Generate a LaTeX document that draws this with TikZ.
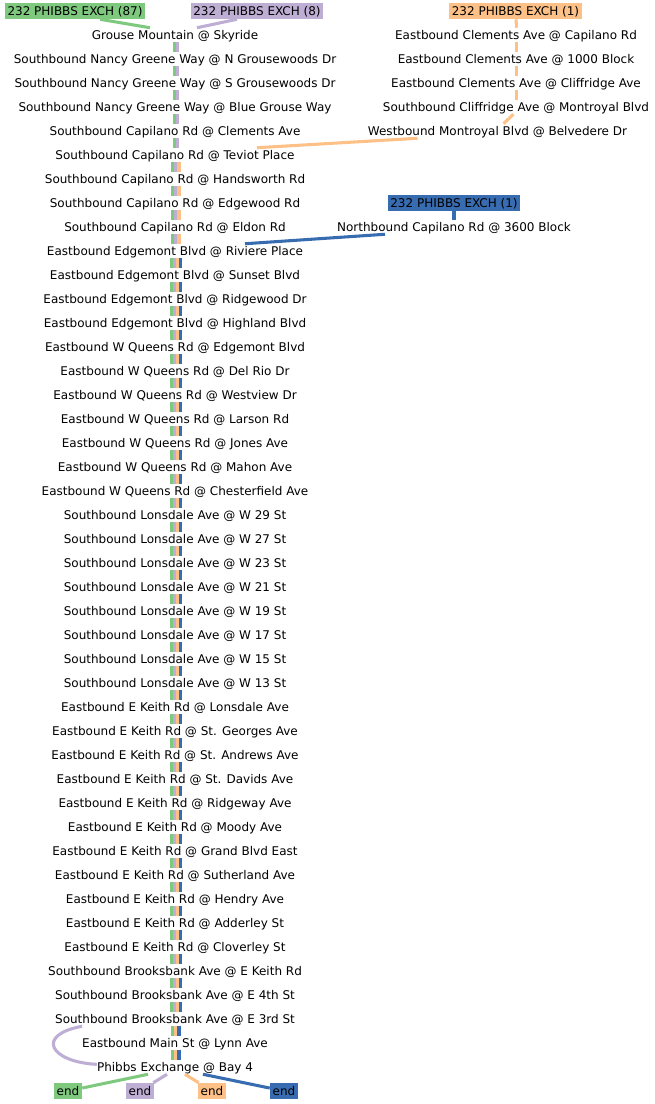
\documentclass[tikz,border=0pt]{standalone}
\usepackage{fontspec}
\setmainfont{DejaVu Sans}
\definecolor{routeg}{HTML}{7FC97F}
\definecolor{routep}{HTML}{BEAED4}
\definecolor{routeo}{HTML}{FDC086}
\definecolor{routeb}{HTML}{386CB0}
\begin{document}
\begin{tikzpicture}[
    x=0.75pt, y=-0.75pt,
    font=\fontsize{9}{10}\selectfont,
    stop/.style={inner sep=0pt, minimum height=10.5pt, text height=7.3pt, text depth=1.2pt},
    hdr/.style={fill=#1, inner xsep=2pt, inner ysep=0pt, minimum height=12pt, text height=7.3pt, text depth=1.2pt},
    seg/.style={#1, line width=2.3pt}
]
\useasboundingbox (0,0) rectangle (655,1104);

\foreach \name [count=\i] in {Grouse Mountain @ Skyride,
  Southbound Nancy Greene Way @ N Grousewoods Dr,
  Southbound Nancy Greene Way @ S Grousewoods Dr,
  Southbound Nancy Greene Way @ Blue Grouse Way,
  Southbound Capilano Rd @ Clements Ave,
  Southbound Capilano Rd @ Teviot Place,
  Southbound Capilano Rd @ Handsworth Rd,
  Southbound Capilano Rd @ Edgewood Rd,
  Southbound Capilano Rd @ Eldon Rd,
  Eastbound Edgemont Blvd @ Riviere Place,
  Eastbound Edgemont Blvd @ Sunset Blvd,
  Eastbound Edgemont Blvd @ Ridgewood Dr,
  Eastbound Edgemont Blvd @ Highland Blvd,
  Eastbound W Queens Rd @ Edgemont Blvd,
  Eastbound W Queens Rd @ Del Rio Dr,
  Eastbound W Queens Rd @ Westview Dr,
  Eastbound W Queens Rd @ Larson Rd,
  Eastbound W Queens Rd @ Jones Ave,
  Eastbound W Queens Rd @ Mahon Ave,
  Eastbound W Queens Rd @ Chesterfield Ave,
  Southbound Lonsdale Ave @ W 29 St,
  Southbound Lonsdale Ave @ W 27 St,
  Southbound Lonsdale Ave @ W 23 St,
  Southbound Lonsdale Ave @ W 21 St,
  Southbound Lonsdale Ave @ W 19 St,
  Southbound Lonsdale Ave @ W 17 St,
  Southbound Lonsdale Ave @ W 15 St,
  Southbound Lonsdale Ave @ W 13 St,
  Eastbound E Keith Rd @ Lonsdale Ave,
  Eastbound E Keith Rd @ St. Georges Ave,
  Eastbound E Keith Rd @ St. Andrews Ave,
  Eastbound E Keith Rd @ St. Davids Ave,
  Eastbound E Keith Rd @ Ridgeway Ave,
  Eastbound E Keith Rd @ Moody Ave,
  Eastbound E Keith Rd @ Grand Blvd East,
  Eastbound E Keith Rd @ Sutherland Ave,
  Eastbound E Keith Rd @ Hendry Ave,
  Eastbound E Keith Rd @ Adderley St,
  Eastbound E Keith Rd @ Cloverley St,
  Southbound Brooksbank Ave @ E Keith Rd,
  Southbound Brooksbank Ave @ E 4th St,
  Southbound Brooksbank Ave @ E 3rd St,
  Eastbound Main St @ Lynn Ave,
  Phibbs Exchange @ Bay 4}
  \node[stop] (s\i) at (175,{11+24*\i}) {\name};

\node[hdr=routeg] (hg) at (75,11) {232 PHIBBS EXCH (87)};
\node[hdr=routep] (hp) at (257,11) {232 PHIBBS EXCH (8)};
\node[hdr=routeo] (ho) at (515.5,11) {232 PHIBBS EXCH (1)};
\node[hdr=routeb] (hb) at (454,203) {232 PHIBBS EXCH (1)};

\foreach \name [count=\i] in {Eastbound Clements Ave @ Capilano Rd,
  Eastbound Clements Ave @ 1000 Block,
  Eastbound Clements Ave @ Cliffridge Ave,
  Southbound Cliffridge Ave @ Montroyal Blvd}
  \node[stop] (r\i) at (516,{11+24*\i}) {\name};
\node[stop] (r5) at (497.5,131) {Westbound Montroyal Blvd @ Belvedere Dr};
\node[stop] (nb) at (454,227) {Northbound Capilano Rd @ 3600 Block};

\foreach \c/\x [count=\k] in {routeg/68, routep/140, routeo/212, routeb/284}
  \node[hdr=\c] (e\k) at (\x,1091) {end};

\foreach \i [evaluate=\i as \j using int(\i+1)] in {1,...,5}
  \foreach \c/\o in {routeg/-0.375, routep/1.875}
    \draw[seg=\c] ([xshift=\o pt]s\i.south) -- ([xshift=\o pt]s\j.north);
\foreach \i [evaluate=\i as \j using int(\i+1)] in {6,...,9}
  \foreach \c/\o in {routeg/-1.5, routep/0.75, routeo/3}
    \draw[seg=\c] ([xshift=\o pt]s\i.south) -- ([xshift=\o pt]s\j.north);
\foreach \i [evaluate=\i as \j using int(\i+1)] in {10,...,41}
  \foreach \c/\o in {routeg/-2.625, routep/-0.375, routeo/1.875, routeb/4.125}
    \draw[seg=\c] ([xshift=\o pt]s\i.south) -- ([xshift=\o pt]s\j.north);
\foreach \i [evaluate=\i as \j using int(\i+1)] in {42,43}
  \foreach \c/\o in {routeg/-1.5, routeo/0.75, routeb/3}
    \draw[seg=\c] ([xshift=\o pt]s\i.south) -- ([xshift=\o pt]s\j.north);
\draw[seg=routep] ([xshift=-69.75pt]s42.south) .. controls (35,1035) and (50,1062) .. ([yshift=2pt]s44.west);

\draw[seg=routeg] ([xshift=18.75pt]hg.south) -- ([xshift=-18.75pt]s1.north);
\draw[seg=routep] ([xshift=-15pt]hp.south) -- ([xshift=16.5pt]s1.north);

\draw[seg=routeo] ([xshift=0.4pt]ho.south) -- ([xshift=0.4pt]r1.north);
\foreach \i [evaluate=\i as \j using int(\i+1)] in {1,2,3}
  \draw[seg=routeo] ([xshift=0.4pt]r\i.south) -- ([xshift=0.4pt]r\j.north);
\draw[seg=routeo] ([xshift=-2pt]r4.south) -- ([xshift=4.5pt]r5.north);
\draw[seg=routeo] ([xshift=-60pt]r5.south) -- ([xshift=61.5pt]s6.north);

\draw[seg=routeb] (hb.south) -- (nb.north);
\draw[seg=routeb] ([xshift=-51.75pt]nb.south) -- ([xshift=52.5pt]s10.north);

\draw[seg=routeg] ([xshift=-20.25pt]s44.south) -- (e1);
\draw[seg=routep] ([xshift=-6pt]s44.south) -- (e2);
\draw[seg=routeo] ([xshift=7.5pt]s44.south) -- (e3);
\draw[seg=routeb] ([xshift=21pt]s44.south) -- (e4);
\end{tikzpicture}
\end{document}
